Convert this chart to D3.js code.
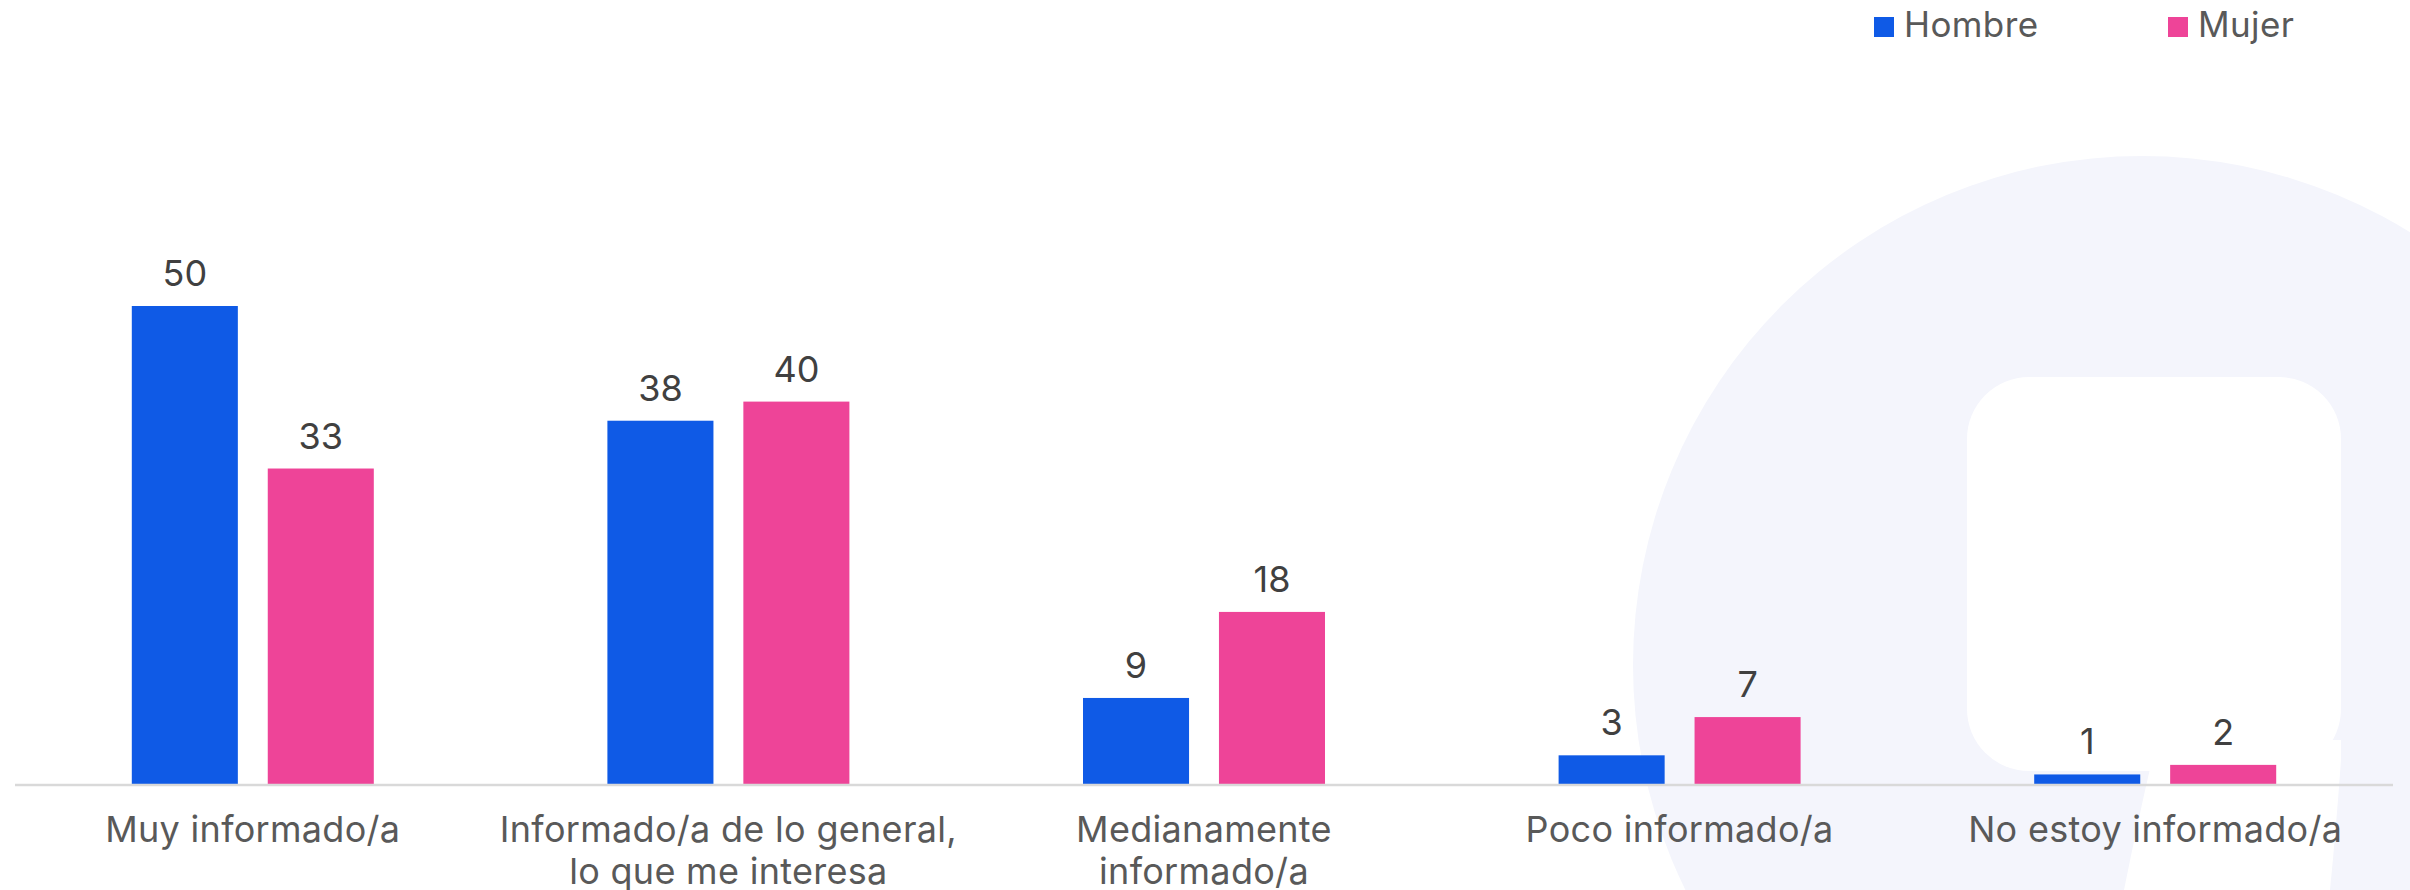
<!DOCTYPE html>
<html>
  <head>
    <meta charset="UTF-8">
    <title>Nivel de información</title>
    <script src="https://d3js.org/d3.v7.min.js"></script>
    <style>
    body { margin: 0; background: #fff; }
    text { font-family: Inter, "Noto Sans", sans-serif; }
    .value { font-size: 36px; fill: #404040; text-anchor: middle; }
    .cat { font-size: 36px; fill: #595959; text-anchor: middle; letter-spacing: 0.3px; }
    .legend text { font-size: 35px; fill: #595959; letter-spacing: 0.4px; }
    </style>
  </head>
  <body>
  </body>
  <script type="text/javascript">

  var categories = [
    ['Muy informado/a'],
    ['Informado/a de lo general,', 'lo que me interesa'],
    ['Medianamente', 'informado/a'],
    ['Poco informado/a'],
    ['No estoy informado/a']
  ]
  var series = ['Hombre', 'Mujer']
  var hombre = [50, 38, 9, 3, 1]
  var mujer = [33, 40, 18, 7, 2]
  var colors = ['#0f5ae6', '#ee4498']

  var W = 2410, H = 890

  var svg = d3.select('body')
    .append('svg')
    .attr('width', W)
    .attr('height', H)

  // faint logo in the background
  var bg = svg.append('g')
  bg.append('circle')
    .attr('cx', 2142).attr('cy', 665).attr('r', 509)
    .attr('fill', '#f4f5fc')
  bg.append('path')
    .attr('d', 'M2152,740 L2341,740 L2341,760 Q2336,830 2330,890 L2124,890 Q2138,820 2152,760 Z')
    .attr('fill', '#fff')
  bg.append('rect')
    .attr('x', 1967).attr('y', 377).attr('width', 374).attr('height', 394)
    .attr('rx', 62).attr('fill', '#fff')

  var keys = categories.map(d => d.join(' '))
  var rows = keys.map((k, i) => ({ key: k, lines: categories[i], vals: [hombre[i], mujer[i]] }))

  var x0 = d3.scaleBand().domain(keys).range([15, 2393]).padding(0)
  var y = d3.scaleLinear().domain([0, 50]).range([784, 306])

  var group = svg.selectAll('.grp')
    .data(rows)
    .enter().append('g')
      .attr('class', 'grp')
      .attr('transform', d => 'translate(' + x0(d.key) + ',0)')

  var c = x0.bandwidth() / 2
  var x1 = d3.scaleBand().domain(series).range([c - 121, c + 121]).paddingInner(0.22)

  group.selectAll('rect')
    .data(d => d.vals.map((v, j) => ({ s: series[j], v: v, j: j })))
    .enter().append('rect')
      .attr('x', d => x1(d.s))
      .attr('y', d => y(d.v))
      .attr('width', x1.bandwidth())
      .attr('height', d => y(0) - y(d.v))
      .attr('fill', d => colors[d.j])

  group.selectAll('.value')
    .data(d => d.vals.map((v, j) => ({ s: series[j], v: v })))
    .enter().append('text')
      .attr('class', 'value')
      .attr('x', d => x1(d.s) + x1.bandwidth() / 2)
      .attr('y', d => y(d.v) - 20)
      .text(d => d.v)

  // axis line
  svg.append('line')
    .attr('x1', 15).attr('x2', 2393)
    .attr('y1', y(0) + 1).attr('y2', y(0) + 1)
    .attr('stroke', '#d9d9d9').attr('stroke-width', 2.5)

  group.append('text')
    .attr('class', 'cat')
    .attr('y', 842)
    .selectAll('tspan')
    .data(d => d.lines)
    .enter().append('tspan')
      .attr('x', c)
      .attr('dy', (d, i) => i ? 42 : 0)
      .text(d => d)

  // legend
  var legX = [1874, 2168]
  var leg = svg.append('g').attr('class', 'legend')
  series.forEach(function(s, i) {
    leg.append('rect')
      .attr('x', legX[i]).attr('y', 17).attr('width', 20).attr('height', 20)
      .attr('fill', colors[i])
    leg.append('text')
      .attr('x', legX[i] + 30).attr('y', 37)
      .text(s)
  })

  </script>
</html>
